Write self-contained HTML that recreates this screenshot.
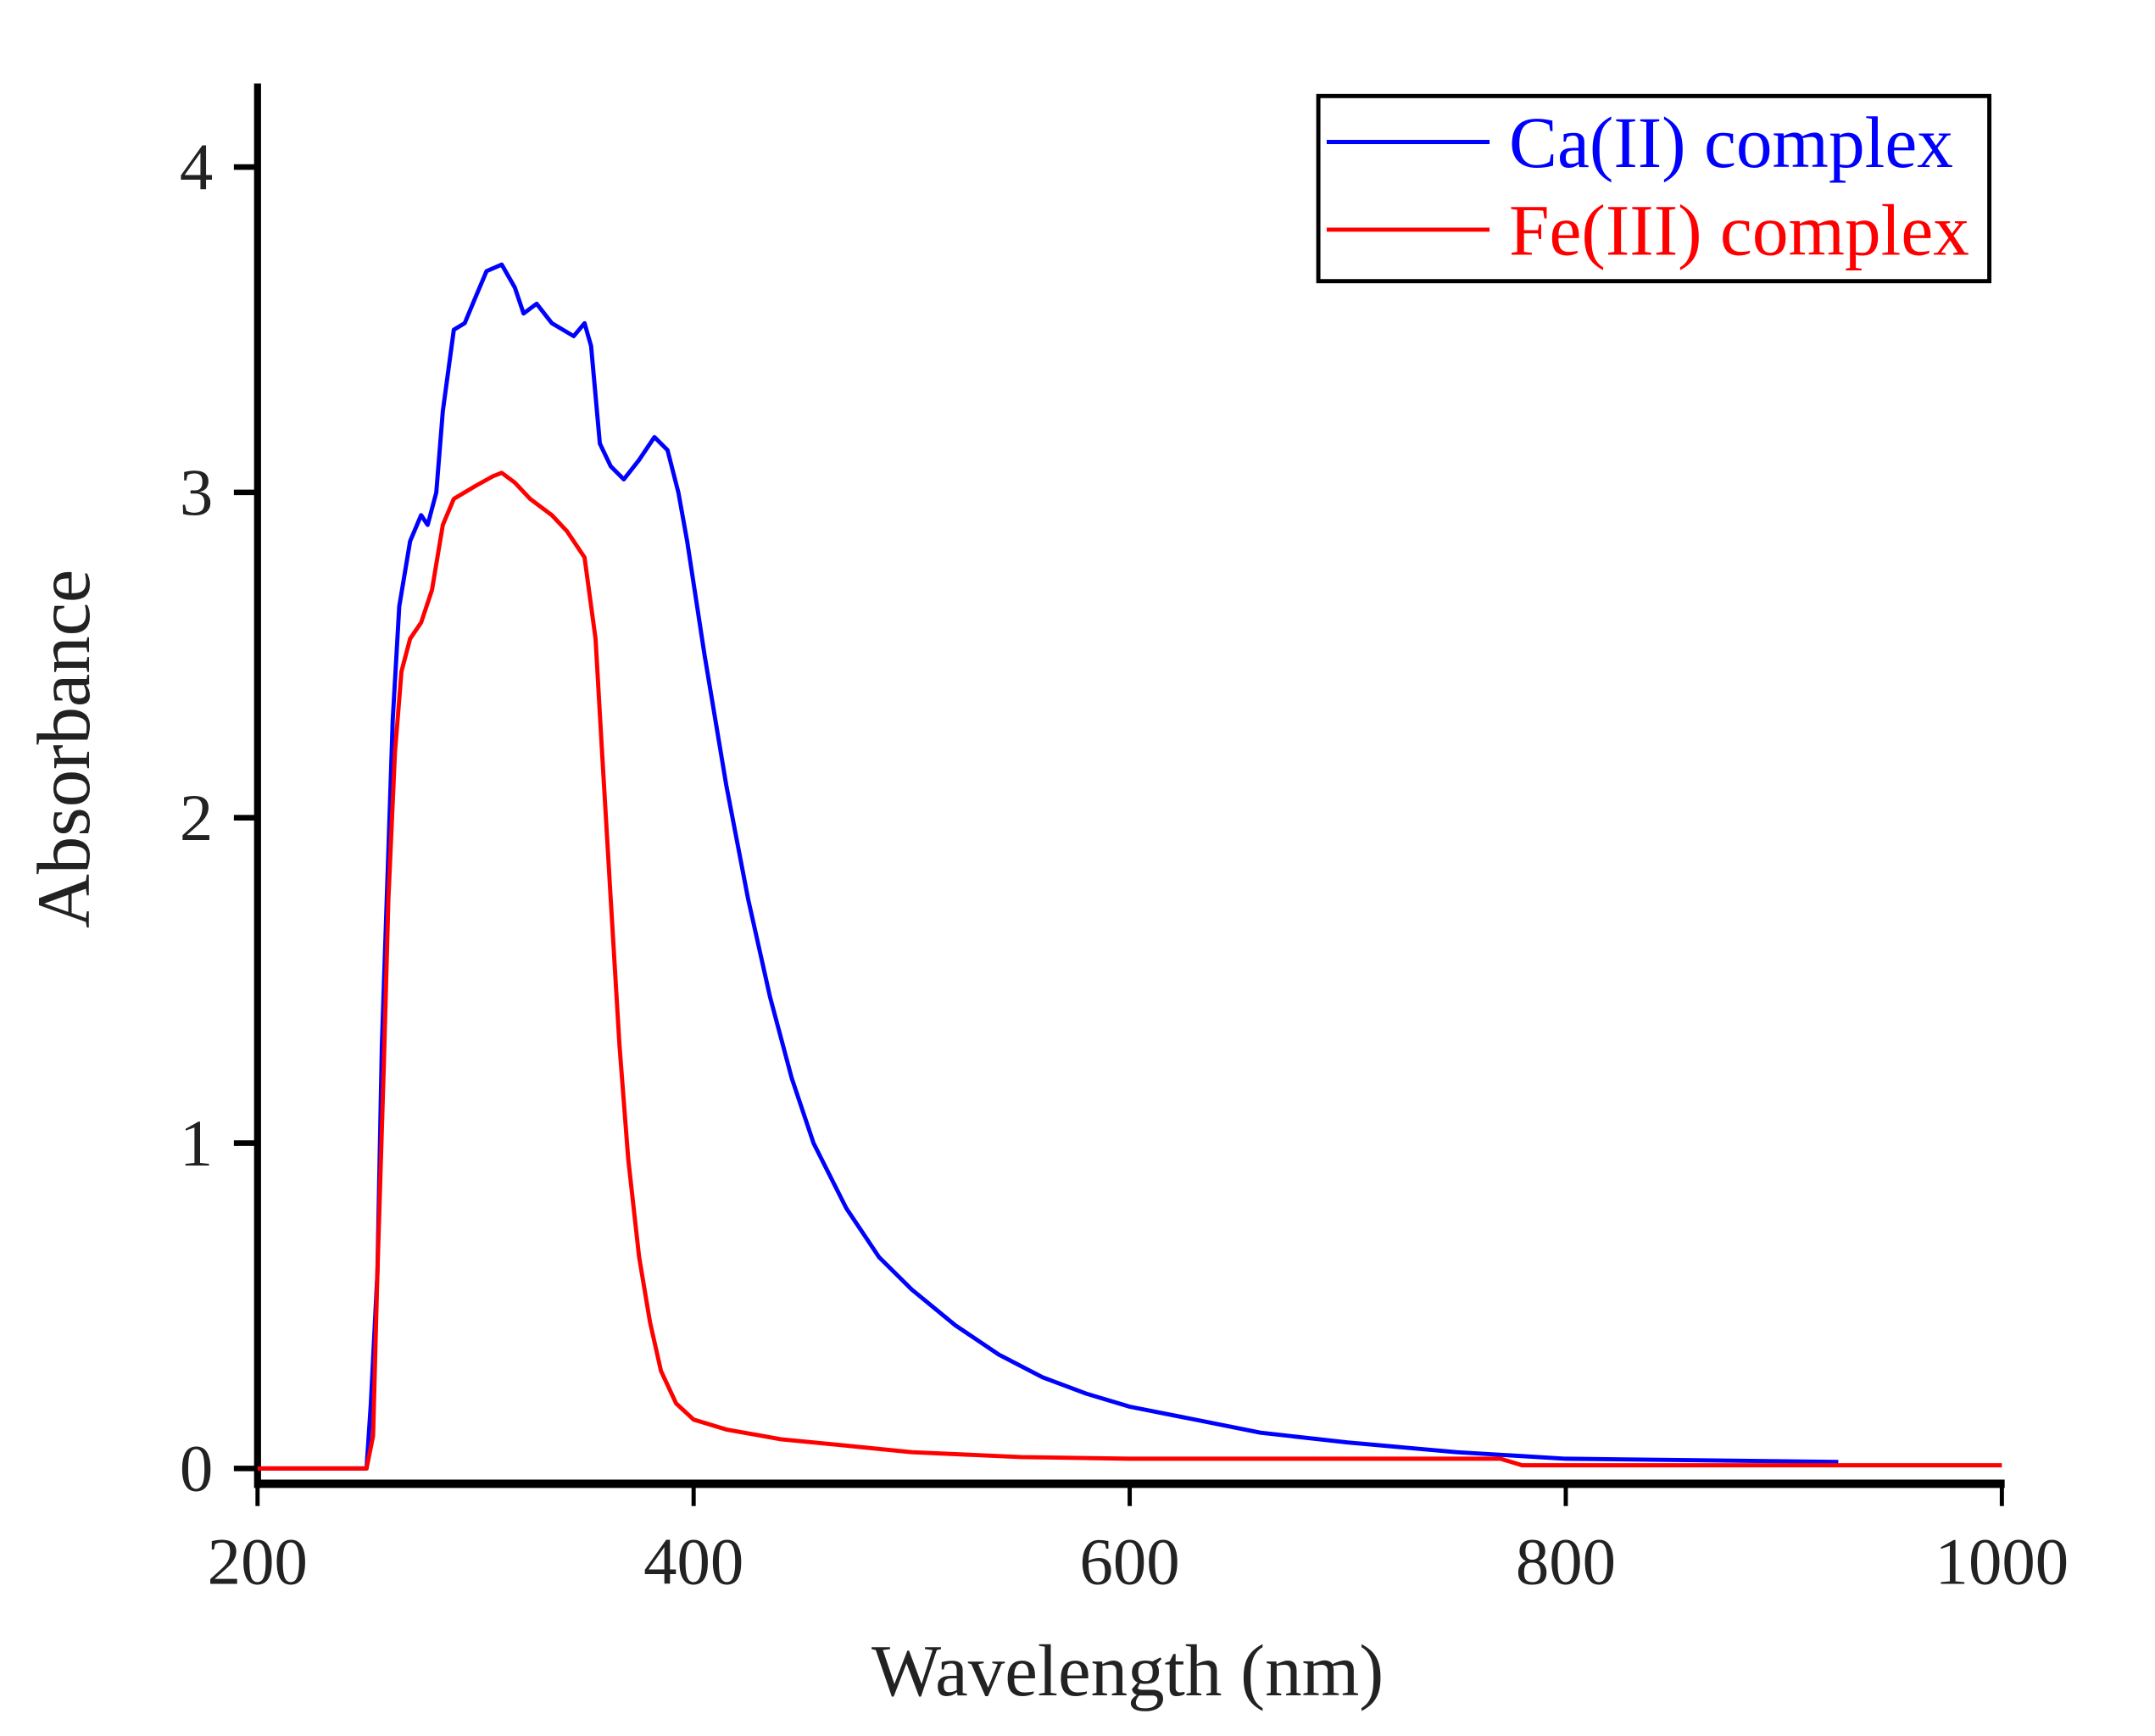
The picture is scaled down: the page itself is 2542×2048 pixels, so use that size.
<!DOCTYPE html>
<html><head><meta charset="utf-8"><style>html,body{margin:0;padding:0;background:#fff}svg{display:block}</style></head>
<body>
<svg id="chart" width="2542" height="2048" viewBox="0 0 1548 1247.2" preserveAspectRatio="none" xmlns="http://www.w3.org/2000/svg" font-family="'Liberation Serif', serif">
<g id="axes"></g>
<g id="series"></g>
<g>
<rect x="947" y="69" width="482" height="133" fill="#fff" stroke="#000" stroke-width="3"/>
<line x1="953" y1="102" x2="1070" y2="102" stroke="#00f" stroke-width="3"/>
<text x="1084" y="120" font-size="52" fill="#00f">Ca(II) complex</text>
<line x1="953" y1="165" x2="1070" y2="165" stroke="#f00" stroke-width="3"/>
<text x="1084" y="183" font-size="52" fill="#f00">Fe(III) complex</text>
</g>
<text x="810" y="1218" font-size="53" text-anchor="middle" fill="#222">Wavelength (nm)</text>
<text transform="translate(64,538) rotate(-90)" font-size="54" text-anchor="middle" fill="#222">Absorbance</text>
</svg>
<script>
const xTicks=[200,400,600,800,1000];
const yTicks=[0,1,2,3,4];
const caWl=[200,250,252,255,257,260,262,265,270,275,278,282,285,290,295,300,305,312,318,322,328,335,345,350,353,357,362,368,375,382,388,393,397,405,415,425,435,445,455,470,485,500,520,540,560,580,600,630,660,700,750,800,925];
const caAbs=[0,0,0.2,0.6,1.3,1.9,2.3,2.65,2.85,2.93,2.9,3.0,3.25,3.5,3.52,3.6,3.68,3.7,3.63,3.55,3.58,3.52,3.48,3.52,3.45,3.15,3.08,3.04,3.1,3.17,3.13,3.0,2.85,2.5,2.1,1.75,1.45,1.2,1.0,0.8,0.65,0.55,0.44,0.35,0.28,0.23,0.19,0.15,0.11,0.08,0.05,0.03,0.02];
const feWl=[200,250,253,255,258,260,263,266,270,275,280,285,290,300,308,312,318,325,335,342,350,355,358,362,366,370,375,380,385,392,400,415,440,470,500,550,600,770,780,1000];
const feAbs=[0,0,0.1,0.6,1.25,1.75,2.2,2.45,2.55,2.6,2.7,2.9,2.98,3.02,3.05,3.06,3.03,2.98,2.93,2.88,2.8,2.55,2.2,1.75,1.3,0.95,0.65,0.45,0.3,0.2,0.15,0.12,0.09,0.07,0.05,0.035,0.03,0.03,0.01,0.01];
const NS='http://www.w3.org/2000/svg';
const X=v=>185+(v-200)*(1438-185)/800;
const Y=v=>1055-v*(1055-120)/4;
function mk(t,a,p){const e=document.createElementNS(NS,t);for(const k in a)e.setAttribute(k,a[k]);p.appendChild(e);return e;}
const ax=document.getElementById('axes');
let e=mk('line',{x1:185,y1:60,x2:185,y2:1069,stroke:'#000','stroke-width':5},ax);


e=mk('line',{x1:183,y1:1066,x2:1440,y2:1066,stroke:'#000','stroke-width':6},ax);


xTicks.forEach(t=>{
 const l=mk('line',{x1:X(t),y1:1066,x2:X(t),y2:1082,stroke:'#000','stroke-width':3},ax);
 
 
 const s=mk('text',{x:X(t),y:1138,'font-size':48,'text-anchor':'middle',fill:'#222'},ax);
 s.textContent=t;
 
 
});
yTicks.forEach(t=>{
 const l=mk('line',{x1:168,y1:Y(t),x2:185,y2:Y(t),stroke:'#000','stroke-width':4},ax);
 
 
 const s=mk('text',{x:153,y:Y(t)+16,'font-size':48,'text-anchor':'end',fill:'#222'},ax);
 s.textContent=t;
 
 
});
const sg=document.getElementById('series');
function draw(wl,ab,col,name){
 const d=wl.map((w,i)=>(i?'L':'M')+X(w).toFixed(1)+','+Y(ab[i]).toFixed(1)).join(' ');
 const p=mk('path',{d:d,fill:'none',stroke:col,'stroke-width':3,'stroke-linejoin':'round'},sg);
 
 
}
draw(caWl,caAbs,'#00f','ca-complex-line');
draw(feWl,feAbs,'#f00','fe-complex-line');
</script>
</body></html>
